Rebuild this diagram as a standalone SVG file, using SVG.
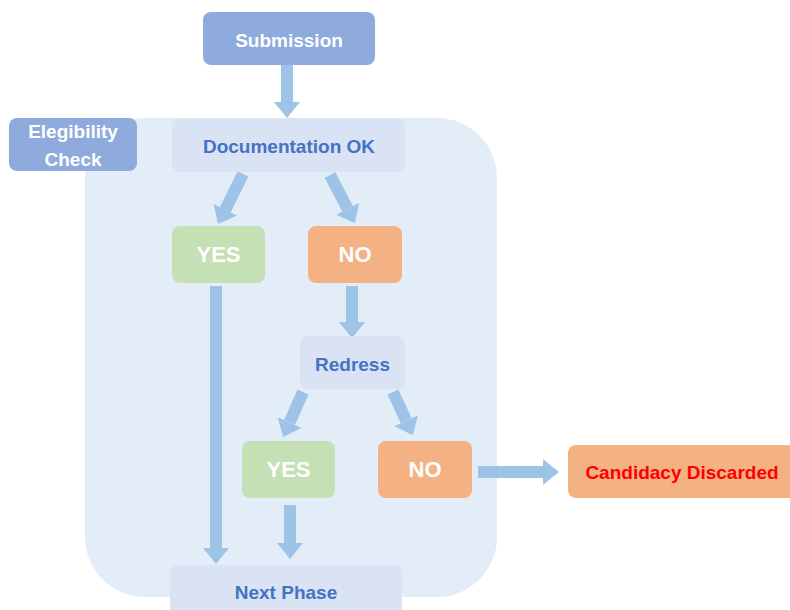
<svg xmlns="http://www.w3.org/2000/svg" width="790" height="610" viewBox="0 0 790 610">
<defs>
<marker id="ah" markerUnits="userSpaceOnUse" markerWidth="16" markerHeight="26" viewBox="0 0 16 26" refX="0" refY="13" orient="auto">
<path d="M0,0 L16,13 L0,26 z" fill="#9DC3E6"/>
</marker>
<style>
text{font-family:"Liberation Sans",Arial,sans-serif;font-weight:bold;text-anchor:middle}
.dark{fill:#8FAADC}
.light{fill:#DAE3F3}
.green{fill:#C5E0B4}
.orange{fill:#F4B183}
.wt{fill:#FFFFFF;font-size:19px}
.bt{fill:#4472C4;font-size:19px}
.big{fill:#FFFFFF;font-size:22px}
.rt{fill:#FF0000;font-size:19px}
.conn line{stroke:#9DC3E6;stroke-width:12;marker-end:url(#ah)}
</style>
</defs>
<rect width="790" height="610" fill="#FFFFFF"/>
<g id="container">
<rect x="85" y="118" width="412" height="479" rx="60" fill="#E3EDF8"/>
</g>
<g class="conn" id="connectors">
<line x1="287" y1="65" x2="287" y2="102"/>
<line x1="243" y1="174" x2="225.2" y2="209.7"/>
<line x1="330" y1="175" x2="347.6" y2="208.8"/>
<line x1="216" y1="286" x2="216" y2="548"/>
<line x1="352" y1="286" x2="352" y2="322"/>
<line x1="303" y1="392" x2="289.6" y2="422.4"/>
<line x1="393" y1="392" x2="406.1" y2="420.6"/>
<line x1="290" y1="505" x2="290" y2="543"/>
<line x1="478" y1="472" x2="543" y2="472"/>
</g>
<g id="submission">
<rect class="dark" x="203" y="12" width="172" height="53" rx="8"/>
<text class="wt" x="289" y="47">Submission</text>
</g>
<g id="elegibility">
<rect class="dark" x="9" y="118" width="128" height="53" rx="8"/>
<text class="wt" x="73" y="138">Elegibility</text>
<text class="wt" x="73" y="166">Check</text>
</g>
<g id="documentation">
<rect class="light" x="172" y="118" width="233" height="54" rx="8"/>
<text class="bt" x="289" y="153">Documentation OK</text>
</g>
<g id="yes1">
<rect class="green" x="172" y="226" width="93" height="57" rx="8"/>
<text class="big" x="218.5" y="262">YES</text>
</g>
<g id="no1">
<rect class="orange" x="308" y="226" width="94" height="57" rx="8"/>
<text class="big" x="355" y="262">NO</text>
</g>
<g id="redress">
<rect class="light" x="300" y="336" width="105" height="53" rx="8"/>
<text class="bt" x="352.5" y="371">Redress</text>
</g>
<g id="yes2">
<rect class="green" x="242" y="441" width="93" height="57" rx="8"/>
<text class="big" x="288.5" y="477">YES</text>
</g>
<g id="no2">
<rect class="orange" x="378" y="441" width="94" height="57" rx="8"/>
<text class="big" x="425" y="477">NO</text>
</g>
<g id="discarded">
<rect class="orange" x="568" y="445" width="232" height="53" rx="8"/>
<text class="rt" x="682" y="479">Candidacy Discarded</text>
</g>
<g id="nextphase">
<rect class="light" x="170" y="565" width="232" height="60" rx="8"/>
<text class="bt" x="286" y="599">Next Phase</text>
</g>
</svg>
